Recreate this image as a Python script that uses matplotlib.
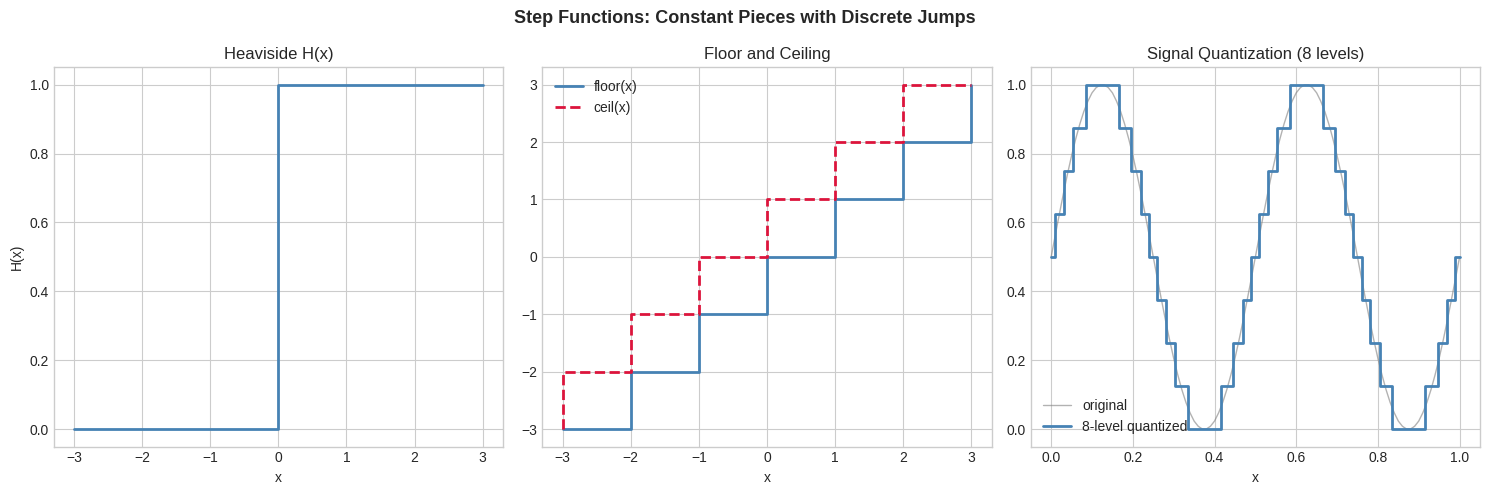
import matplotlib
matplotlib.use("Agg")
import matplotlib.pyplot as plt

# Heaviside H(x)
heav_x = [-3, 0, 3]
heav_y = [0, 1, 1]

# floor / ceil  (step breakpoints)
floor_x = [-3, -2, -1, 0, 1, 2, 3]
floor_y = [-3, -2, -1, 0, 1, 2, 3]
ceil_x = [-3, -3, -2, -1, 0, 1, 2, 3]
ceil_y = [-3, -2, -1, 0, 1, 2, 3, 3]

# signal quantization: original signal sampled every 0.01
sig_x = [i / 100 for i in range(101)]
sig_y = [0.5, 0.563, 0.624, 0.684, 0.741, 0.794, 0.842, 0.885, 0.922, 0.952,
         0.976, 0.991, 0.999, 0.999, 0.991, 0.976, 0.952, 0.922, 0.885, 0.842,
         0.794, 0.741, 0.684, 0.624, 0.563, 0.5, 0.437, 0.376, 0.316, 0.259,
         0.206, 0.158, 0.115, 0.078, 0.048, 0.024, 0.009, 0.001, 0.001, 0.009,
         0.024, 0.048, 0.078, 0.115, 0.158, 0.206, 0.259, 0.316, 0.376, 0.437,
         0.5, 0.563, 0.624, 0.684, 0.741, 0.794, 0.842, 0.885, 0.922, 0.952,
         0.976, 0.991, 0.999, 0.999, 0.991, 0.976, 0.952, 0.922, 0.885, 0.842,
         0.794, 0.741, 0.684, 0.624, 0.563, 0.5, 0.437, 0.376, 0.316, 0.259,
         0.206, 0.158, 0.115, 0.078, 0.048, 0.024, 0.009, 0.001, 0.001, 0.009,
         0.024, 0.048, 0.078, 0.115, 0.158, 0.206, 0.259, 0.316, 0.376, 0.437,
         0.5]

# quantized signal: jump positions and levels
quant_x = [0, 0.010, 0.031, 0.054, 0.085, 0.165, 0.196, 0.219, 0.240, 0.260,
           0.281, 0.304, 0.335, 0.415, 0.446, 0.469, 0.490, 0.510, 0.531, 0.554,
           0.585, 0.665, 0.696, 0.719, 0.740, 0.760, 0.781, 0.804, 0.835, 0.915,
           0.946, 0.969, 0.990, 1.0]
quant_y = [0.5, 0.625, 0.75, 0.875, 1.0, 0.875, 0.75, 0.625, 0.5, 0.375,
           0.25, 0.125, 0.0, 0.125, 0.25, 0.375, 0.5, 0.625, 0.75, 0.875,
           1.0, 0.875, 0.75, 0.625, 0.5, 0.375, 0.25, 0.125, 0.0, 0.125,
           0.25, 0.375, 0.5, 0.5]

plt.style.use("seaborn-v0_8-whitegrid")
plt.rcParams['font.family'] = ['Liberation Sans', 'DejaVu Sans']

blue = '#4682B4'
red = '#DC143C'

fig, axes = plt.subplots(1, 3, figsize=(15, 5), dpi=100)

ax = axes[0]
ax.step(heav_x, heav_y, where='post', color=blue, linewidth=2)
ax.set_title('Heaviside H(x)', fontsize=12)
ax.set_xlabel('x')
ax.set_ylabel('H(x)')
ax.set_ylim(-0.05, 1.05)

ax = axes[1]
ax.step(floor_x, floor_y, where='post', color=blue, linewidth=2, label='floor(x)')
ax.step(ceil_x, ceil_y, where='post', color=red, linewidth=2, linestyle='--', label='ceil(x)')
ax.set_title('Floor and Ceiling', fontsize=12)
ax.set_xlabel('x')
ax.legend(loc='upper left')

ax = axes[2]
ax.plot(sig_x, sig_y, color='gray', linewidth=1, alpha=0.6, label='original')
ax.step(quant_x, quant_y, where='post', color=blue, linewidth=2, label='8-level quantized')
ax.set_title('Signal Quantization (8 levels)', fontsize=12)
ax.set_xlabel('x')
ax.set_ylim(-0.05, 1.05)
ax.legend(loc='lower left')

fig.suptitle('Step Functions: Constant Pieces with Discrete Jumps', fontsize=13, fontweight='bold')
fig.tight_layout()
fig.savefig('out.png', bbox_inches='tight')
